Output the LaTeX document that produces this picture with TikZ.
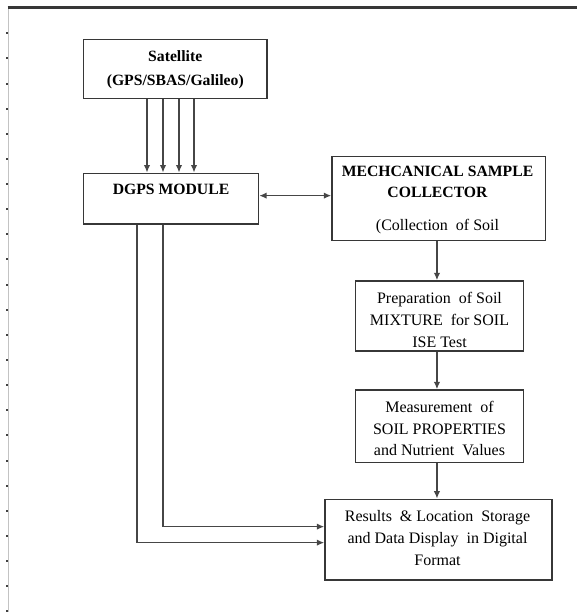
\documentclass[tikz,border=0pt]{standalone}
\usepackage{fontspec}
\setmainfont{Liberation Serif}
\usetikzlibrary{arrows.meta}

\definecolor{edge}{RGB}{55,55,55}
\definecolor{wire}{RGB}{70,70,70}
\definecolor{rule}{RGB}{195,195,195}

\newcommand\regfont{\fontsize{16}{22}\selectfont}
\newcommand\boldfont{\fontsize{15.7}{24}\selectfont\bfseries}

\tikzset{
  box/.style={draw=edge, line width=1.4pt, inner sep=0pt, fill=white},
  txt/.style={align=center, inner sep=0pt, text=black, font=\regfont},
  btxt/.style={align=center, inner sep=0pt, text=black, font=\boldfont},
  tip/.style={Latex[length=7.5pt,width=6.5pt]},
  arr/.style={draw=wire, line width=1.5pt, -{Latex[length=7.5pt,width=6.5pt]}},
  dblarr/.style={draw=wire, line width=1.5pt, {Latex[length=7.5pt,width=6.5pt]}-{Latex[length=7.5pt,width=6.5pt]}}
}

\begin{document}
\begin{tikzpicture}[x=1pt, y=-1pt]
\useasboundingbox (0,0) rectangle (577,612);

% page frame with ruler ticks on the left
\draw[rule, line width=1.5pt] (8.3,7.3) -- (8.3,612);
\draw[edge, line width=2.2pt] (7.5,7.5) -- (577,7.5);
\foreach \k in {0,...,23}
  \fill[black!75] (5.6,{32.3+25.13*\k}) rectangle +(2,2);

% boxes
\node[box, minimum width=183.5pt, minimum height=59pt]   (sat)  at (175.25,68.8)  {};
\node[box, minimum width=175pt,   minimum height=50.7pt] (dgps) at (171,198.65)   {};
\node[box, minimum width=213.5pt, minimum height=84pt]   (msc)  at (438.75,198.7) {};
\node[box, minimum width=168pt,   minimum height=70pt]   (prep) at (439.45,316)   {};
\node[box, minimum width=168pt,   minimum height=72.3pt] (meas) at (439.45,426.15){};
\node[box, minimum width=227pt,   minimum height=80.7pt] (res)  at (438.5,539.65) {};

% box texts
\node[btxt, font=\fontsize{15.7}{24.3}\selectfont\bfseries] (satT) at (175.25,69.5) {Satellite\\(GPS/SBAS/Galileo)};
\node[btxt] (dgpsT) at (171,189) {DGPS MODULE};
\node[btxt, font=\fontsize{15.7}{21}\selectfont\bfseries] (mscT) at (437.5,181.5) {MECHCANICAL SAMPLE\\COLLECTOR};
\node[txt] (mscU) at (437.5,226.7) {(Collection~ of Soil};
\node[txt] (prepT) at (439.5,319.5) {Preparation~ of Soil\\MIXTURE~ for SOIL\\ISE Test};
\node[txt, font=\fontsize{16}{21.7}\selectfont] (measT) at (439.5,428.5) {Measurement~ of\\SOIL PROPERTIES\\and Nutrient~ Values};
\node[txt] (resT) at (437.5,538.5) {Results~ \& Location~ Storage\\and Data Display~ in Digital\\Format};

% satellite signals into the DGPS module
\foreach \dx in {-28.25,-12.25,3.75,18.75}
  \draw[arr] ([xshift=\dx pt]sat.south) -- ([xshift=\dx pt]sat.south |- dgps.north);

% DGPS <-> sample collector
\draw[dblarr] ([yshift=3pt]dgps.east) -- ([yshift=3pt]dgps.east -| msc.west);

% processing chain
\draw[arr] ([xshift=-2.5pt]prep.north |- msc.south) -- ([xshift=-2.5pt]prep.north);
\draw[arr] ([xshift=-2.5pt]prep.south) -- ([xshift=-2.5pt]prep.south |- meas.north);
\draw[arr] ([xshift=-2.5pt]meas.south) -- ([xshift=-2.5pt]meas.south |- res.north);

% location data from the DGPS module to storage
\draw[arr] ([xshift=-8pt]dgps.south) |- ([yshift=13pt]res.west);
\draw[arr] ([xshift=-34pt]dgps.south) |- ([yshift=-3pt]res.west);
\end{tikzpicture}
\end{document}
